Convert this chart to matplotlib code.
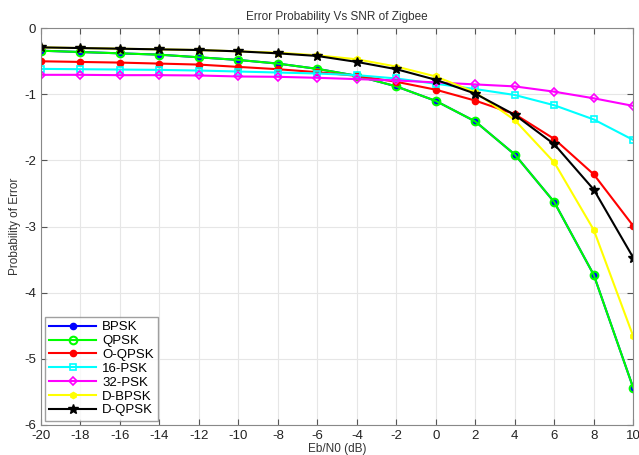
import matplotlib.pyplot as plt

# SNR en dB
snr_db = [-20, -18, -16, -14, -12, -10, -8, -6, -4, -2, 0, 2, 4, 6, 8, 10]

# Probabilidad de error (log10)
bpsk = [-0.34, -0.36, -0.38, -0.40, -0.44, -0.48, -0.535, -0.615, -0.72, -0.88,
        -1.10, -1.41, -1.91, -2.63, -3.73, -5.44]
qpsk = [-0.34, -0.36, -0.38, -0.40, -0.44, -0.48, -0.535, -0.615, -0.72, -0.88,
        -1.10, -1.41, -1.91, -2.63, -3.73, -5.44]
oqpsk = [-0.50, -0.51, -0.52, -0.535, -0.55, -0.585, -0.62, -0.665, -0.72, -0.81,
         -0.93, -1.095, -1.30, -1.675, -2.21, -2.99]
psk16 = [-0.615, -0.62, -0.625, -0.63, -0.64, -0.655, -0.67, -0.685, -0.71, -0.76,
         -0.84, -0.92, -1.01, -1.165, -1.38, -1.69]
psk32 = [-0.705, -0.705, -0.71, -0.71, -0.715, -0.73, -0.735, -0.75, -0.77, -0.79,
         -0.82, -0.85, -0.88, -0.96, -1.06, -1.175]
dbpsk = [-0.29, -0.30, -0.31, -0.32, -0.33, -0.35, -0.37, -0.41, -0.47, -0.58,
         -0.73, -0.97, -1.39, -2.03, -3.05, -4.66]
dqpsk = [-0.29, -0.30, -0.31, -0.32, -0.33, -0.35, -0.38, -0.42, -0.51, -0.62,
         -0.78, -0.99, -1.31, -1.755, -2.44, -3.47]

plt.rcParams['font.family'] = ['Liberation Sans', 'DejaVu Sans']
plt.rcParams['axes.unicode_minus'] = False

fig = plt.figure(figsize=(6.39, 4.55), dpi=100)
ax = fig.add_axes([0.064, 0.066, 0.927, 0.872])

lw = 1.5
ms = 4.5
ax.plot(snr_db, bpsk, color='blue', marker='o', lw=lw, ms=ms, label='BPSK')
ax.plot(snr_db, qpsk, color='#00ff00', marker='o', mfc='none', mew=1.5, lw=lw, ms=ms + 1, label='QPSK')
ax.plot(snr_db, oqpsk, color='red', marker='o', lw=lw, ms=ms, label='O-QPSK')
ax.plot(snr_db, psk16, color='cyan', marker='s', mfc='none', mew=1.2, lw=lw, ms=ms, label='16-PSK')
ax.plot(snr_db, psk32, color='magenta', marker='D', mfc='none', mew=1.2, lw=lw, ms=ms, label='32-PSK')
ax.plot(snr_db, dbpsk, color='yellow', marker='h', lw=lw, ms=ms, label='D-BPSK')
ax.plot(snr_db, dqpsk, color='black', marker='*', lw=lw, ms=ms + 2.5, label='D-QPSK')

ax.set_xlim(-20, 10)
ax.set_ylim(-6, 0)
ax.set_xticks(range(-20, 11, 2))
ax.set_yticks(range(-6, 1))
ax.grid(True, color='#e6e6e6', lw=0.8)
ax.set_axisbelow(True)
ax.tick_params(direction='in', labelsize=9.5, color='#555555', labelcolor='#222222',
               length=4, top=True, right=True)
for s in ax.spines.values():
    s.set_color('#888888')

ax.set_title('Error Probability Vs SNR of Zigbee', fontsize=8.5, color='#333333', pad=6)
ax.set_xlabel('Eb/N0 (dB)', fontsize=8.5, color='#333333', labelpad=1)
ax.set_ylabel('Probability of Error', fontsize=8.5, color='#333333', labelpad=2)

leg = ax.legend(loc='lower left', fontsize=9.5, frameon=True, fancybox=False,
                edgecolor='#888888', handlelength=3.5, labelspacing=0.12,
                borderaxespad=0.3, handletextpad=0.5, borderpad=0.35)
leg.get_frame().set_linewidth(1.0)

fig.savefig('out.png', dpi=100)
